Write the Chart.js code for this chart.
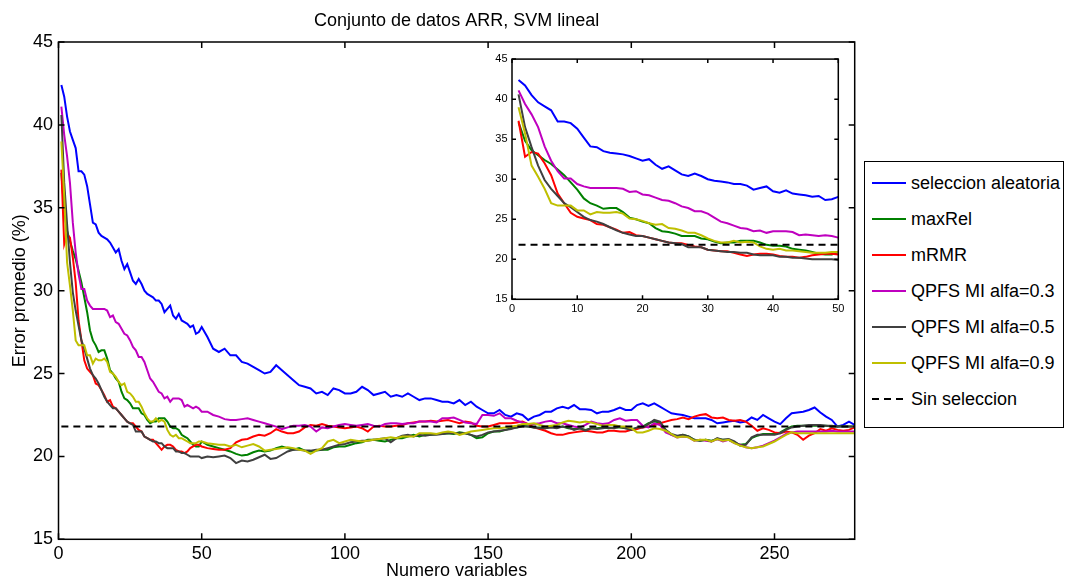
<!DOCTYPE html>
<html>
<head>
<meta charset="utf-8">
<script src="https://cdn.jsdelivr.net/npm/chart.js@4/dist/chart.umd.min.js"></script>
<style>
  body { margin: 0; background: #fff; }
  #wrap { position: relative; width: 1065px; height: 582px; font-family: "Liberation Sans", Arial, sans-serif; }
  #mainChart { position: absolute; left: 0; top: 0; }
  #insetChart { position: absolute; left: 470px; top: 48px; }
  #legend { position: absolute; left: 864px; top: 161px; width: 198px; height: 265px; border: 1px solid #000; background: #fff; }
  .item { position: absolute; left: 0; height: 22px; display: flex; align-items: center; font-size: 18px; color: #000; white-space: nowrap; }
  .sample { width: 34px; height: 2px; margin-left: 7px; margin-right: 5px; }
</style>
</head>
<body>
<div id="wrap">
  <canvas id="mainChart" width="1065" height="582"></canvas>
  <canvas id="insetChart" width="380" height="272"></canvas>
  <div id="legend"></div>
</div>
<script>
// numero de variables (1..50 una a una, luego cada 2)
const xVals = [1,2,3,4,5,6,7,8,9,10,11,12,13,14,15,16,17,18,19,20,21,22,23,24,25,26,27,28,29,30,
  31,32,33,34,35,36,37,38,39,40,41,42,43,44,45,46,47,48,49,50,
  52,54,56,58,60,62,64,66,68,70,72,74,76,78,80,82,84,86,88,90,92,94,96,98,100,102,104,106,108,110,
  112,114,116,118,120,122,124,126,128,130,132,134,136,138,140,142,144,146,148,150,152,154,156,158,160,
  162,164,166,168,170,172,174,176,178,180,182,184,186,188,190,192,194,196,198,200,202,204,206,208,210,
  212,214,216,218,220,222,224,226,228,230,232,234,236,238,240,242,244,246,248,250,252,254,256,258,260,
  262,264,266,268,270,272,274,276,278];

const aleatoria = [42.4,41.7,40.5,39.6,39.1,38.6,37.2,37.2,37.0,36.3,
  35.2,34.1,34.0,33.5,33.3,33.2,33.1,32.9,32.6,32.3,
  32.5,31.8,31.3,31.6,31.1,30.6,30.4,30.7,30.4,30.0,
  29.8,29.7,29.6,29.4,29.4,29.2,28.7,28.9,29.1,28.5,
  28.3,28.6,28.2,28.1,28.0,27.8,27.9,27.4,27.5,27.8,
  27.2,26.5,26.3,26.5,26.1,26.1,25.7,25.6,25.4,25.2,
  25.0,25.1,25.5,25.2,24.9,24.6,24.3,24.2,24.1,23.8,
  23.9,23.7,24.1,24.0,23.8,23.8,23.9,24.2,24.0,23.7,
  23.8,23.9,23.6,23.7,23.6,23.8,23.6,23.4,23.5,23.5,
  23.4,23.3,23.3,23.2,23.4,23.1,23.3,23.0,22.8,22.6,
  22.6,22.8,22.5,22.4,22.6,22.5,22.2,22.4,22.5,22.7,
  22.7,22.9,23.0,22.9,23.1,22.85,22.85,22.8,22.6,22.7,
  22.7,22.8,22.95,22.8,22.8,23.1,23.2,23.05,23.2,23.0,
  22.8,22.6,22.55,22.5,22.4,22.3,22.3,22.3,22.2,22.0,
  22.05,22.1,22.15,22.05,22.1,22.35,22.2,22.5,22.3,22.1,
  21.95,22.3,22.6,22.65,22.7,22.8,22.95,22.65,22.4,22.2,
  21.8,21.9,22.1,21.9];

const maxRel = [37.1,34.8,33.6,33.0,32.4,31.9,31.2,30.5,29.6,28.7,
  27.6,27.0,26.7,26.3,26.4,26.4,25.9,25.2,25.0,24.7,
  24.5,23.9,23.5,23.4,23.2,22.9,22.9,22.9,22.6,22.5,
  22.2,22.0,22.1,22.1,22.3,22.3,22.3,22.1,21.8,21.7,
  21.7,21.6,21.3,21.2,21.1,20.9,20.7,20.6,20.6,20.9,
  20.7,20.6,20.5,20.4,20.3,20.15,20.05,20.1,20.25,20.35,
  20.3,20.35,20.5,20.6,20.5,20.4,20.5,20.35,20.3,20.35,
  20.4,20.4,20.55,20.6,20.6,20.7,20.8,20.85,21.0,21.0,
  20.95,20.9,21.0,21.1,21.1,21.2,21.3,21.2,21.3,21.3,
  21.35,21.35,21.4,21.35,21.45,21.4,21.3,21.1,21.15,21.4,
  21.5,21.5,21.6,21.7,21.75,21.85,21.8,21.75,21.75,21.7,
  21.8,21.75,21.8,21.7,21.65,21.7,21.6,21.7,21.7,21.75,
  21.7,21.75,21.75,21.7,21.65,21.7,21.8,22.0,22.1,22.05,
  21.6,21.3,21.2,21.3,21.2,21.0,20.95,21.0,20.95,21.05,
  21.0,21.0,20.85,20.7,20.75,21.1,21.25,21.35,21.35,21.35,
  21.45,21.65,21.8,21.85,21.85,21.85,21.85,21.85,21.85,21.8,
  21.8,21.8,21.8,21.8];

const mRMR = [37.3,32.8,33.4,33.2,32.0,30.5,28.2,27.0,25.8,25.3,
  25.1,24.9,24.4,24.3,24.0,23.7,23.3,23.4,23.0,22.9,
  22.7,22.5,22.3,22.1,22.0,22.0,21.8,21.6,21.5,21.2,
  21.1,21.0,21.0,20.8,20.6,20.4,20.6,20.7,20.7,20.6,
  20.4,20.3,20.3,20.2,20.3,20.5,20.6,20.7,20.7,20.6,
  20.5,20.45,20.4,20.4,20.5,20.85,21.0,21.05,21.2,21.3,
  21.25,21.4,21.65,21.5,21.4,21.4,21.5,21.75,21.9,21.85,
  21.95,21.85,21.8,21.75,21.7,21.75,21.8,21.7,21.5,21.8,
  21.85,21.8,21.8,21.85,21.9,22.0,22.05,22.1,22.1,22.15,
  22.1,22.15,22.2,22.1,22.0,22.1,22.05,21.85,21.8,21.8,
  21.9,22.0,22.0,22.0,22.05,22.1,21.95,21.75,21.65,21.55,
  21.4,21.3,21.3,21.4,21.45,21.5,21.55,21.5,21.45,21.45,
  21.55,21.55,21.5,21.5,21.6,21.65,21.75,21.8,21.9,22.0,
  22.1,22.2,22.25,22.35,22.25,22.4,22.5,22.55,22.35,22.3,
  22.35,22.2,22.15,22.2,22.1,21.85,21.55,21.7,21.6,21.45,
  21.4,21.5,21.45,21.3,21.0,21.25,21.4,21.65,21.55,21.7,
  21.6,21.55,21.6,21.75];

const qpfs03 = [41.1,39.4,38.1,36.5,34.1,32.3,31.0,30.1,30.1,29.4,
  29.1,28.9,28.9,28.9,28.9,28.9,28.8,28.4,28.5,28.1,
  28.0,27.7,27.4,27.3,27.0,26.6,26.4,26.0,26.0,25.7,
  25.2,24.7,24.5,24.2,23.9,23.8,23.5,23.6,23.3,23.5,
  23.5,23.5,23.4,23.0,23.1,23.0,22.9,23.0,22.9,22.7,
  22.7,22.5,22.4,22.25,22.2,22.2,22.25,22.3,22.2,22.1,
  22.0,21.9,21.8,21.65,21.75,21.85,21.85,21.9,21.8,21.5,
  21.75,21.7,21.8,21.9,21.95,21.9,21.85,21.9,21.95,21.85,
  21.8,21.95,22.0,22.0,21.95,22.0,22.0,22.1,22.1,22.1,
  22.05,22.3,22.3,22.35,22.2,22.05,22.0,21.95,22.5,22.5,
  22.45,22.6,22.3,22.3,22.15,22.05,21.95,21.95,22.0,22.1,
  22.15,22.0,22.0,21.9,21.8,21.75,21.9,22.1,22.0,21.95,
  22.0,22.2,22.3,22.15,22.2,22.2,21.85,21.75,22.0,21.9,
  21.45,21.3,21.15,21.2,21.15,20.95,21.0,20.95,20.9,21.05,
  20.9,21.0,20.8,20.7,20.55,20.5,20.55,20.65,20.8,20.95,
  21.15,21.35,21.45,21.5,21.5,21.5,21.5,21.5,21.5,21.55,
  21.5,21.5,21.5,21.5];

const qpfs05 = [40.6,36.5,34.0,31.7,29.9,28.8,27.9,27.0,26.5,25.9,
  25.3,24.9,24.7,24.4,24.0,23.6,23.3,23.1,22.9,22.9,
  22.7,22.5,22.3,22.1,22.0,21.9,21.5,21.5,21.5,21.2,
  21.1,21.0,20.9,20.9,20.8,20.8,20.6,20.5,20.5,20.5,
  20.3,20.3,20.2,20.2,20.1,20.0,20.0,20.0,20.0,19.9,
  20.0,19.95,20.0,20.05,19.9,19.6,19.75,19.7,19.8,19.95,
  20.1,19.85,19.9,20.1,20.3,20.4,20.4,20.35,20.35,20.4,
  20.4,20.5,20.6,20.7,20.75,20.85,20.9,20.95,20.95,21.0,
  21.05,21.1,20.85,21.1,21.25,21.3,21.2,21.3,21.25,21.3,
  21.3,21.35,21.4,21.4,21.4,21.4,21.3,21.2,21.3,21.45,
  21.5,21.55,21.6,21.65,21.75,21.8,21.8,21.75,21.7,21.7,
  21.75,21.7,21.8,21.75,21.6,21.7,21.55,21.7,21.65,21.7,
  21.75,21.7,21.8,21.7,21.6,21.75,21.75,21.95,22.2,22.1,
  21.6,21.35,21.25,21.3,21.2,21.0,20.95,21.0,20.9,21.1,
  21.0,21.05,20.9,20.65,20.7,21.15,21.3,21.3,21.3,21.3,
  21.4,21.6,21.75,21.8,21.85,21.9,21.9,21.9,21.85,21.85,
  21.8,21.8,21.8,21.8];

const qpfs09 = [39.0,35.7,31.7,30.3,28.8,27.0,26.7,26.7,26.7,26.1,
  26.1,25.6,25.9,25.8,25.8,25.9,25.7,25.1,25.0,24.8,
  24.5,24.3,24.4,23.9,23.8,23.6,23.3,23.3,23.0,22.6,
  22.3,22.1,22.1,22.3,22.1,22.2,22.1,21.6,21.3,21.2,
  21.3,21.1,21.1,21.0,20.9,20.8,20.8,20.8,20.9,20.9,
  20.8,20.75,20.7,20.7,20.6,20.7,20.55,20.65,20.75,20.6,
  20.35,20.4,20.45,20.5,20.55,20.5,20.4,20.35,20.15,20.35,
  20.5,20.9,21.0,20.8,20.9,21.0,20.95,20.9,20.95,21.0,
  21.05,21.1,21.15,21.1,21.2,21.2,21.2,21.4,21.4,21.4,
  21.35,21.45,21.5,21.45,21.3,21.4,21.5,21.55,21.6,21.65,
  21.7,21.7,21.75,21.8,21.85,21.95,21.95,22.0,21.9,21.8,
  21.85,21.9,22.05,22.15,22.1,22.05,22.1,22.05,21.95,21.85,
  21.9,21.9,21.8,21.8,21.7,21.45,21.45,21.55,21.7,21.65,
  21.55,21.35,21.15,21.2,21.15,20.95,21.0,21.0,20.9,21.05,
  20.95,21.0,20.8,20.65,20.55,20.5,20.55,20.6,20.75,20.9,
  21.1,21.3,21.45,21.4,21.4,21.4,21.4,21.4,21.4,21.4,
  21.4,21.4,21.4,21.4];

const sinSeleccion = 21.8;

const seriesNames = ['seleccion aleatoria', 'maxRel', 'mRMR', 'QPFS MI alfa=0.3', 'QPFS MI alfa=0.5', 'QPFS MI alfa=0.9'];
const seriesColors = ['#0000ff', '#008000', '#ff0000', '#bf00bf', '#404040', '#bfbf00'];
const seriesValues = [aleatoria, maxRel, mRMR, qpfs03, qpfs05, qpfs09];

const mainXTicks = [0, 50, 100, 150, 200, 250];
const mainYTicks = [15, 20, 25, 30, 35, 40, 45];
const insetXTicks = [0, 10, 20, 30, 40, 50];
const insetYTicks = [15, 20, 25, 30, 35, 40, 45];

Chart.defaults.font.family = '"Liberation Sans", Arial, sans-serif';
Chart.defaults.color = '#000';

// caja estilo matlab con ticks hacia dentro
const boxTicks = {
    id: 'boxTicks',
    beforeDraw(chart, args, opts) {
        if (!opts.fill) return;
        const { ctx, chartArea: a } = chart;
        ctx.save();
        ctx.fillStyle = opts.fill;
        ctx.fillRect(a.left, a.top, a.width, a.height);
        ctx.restore();
    },
    afterDraw(chart, args, opts) {
        const { ctx, chartArea: a, scales } = chart;
        const len = opts.len;
        ctx.save();
        ctx.strokeStyle = '#000';
        ctx.lineWidth = opts.width;
        ctx.beginPath();
        scales.x.ticks.forEach((t) => {
            const px = scales.x.getPixelForValue(t.value);
            ctx.moveTo(px, a.bottom); ctx.lineTo(px, a.bottom - len);
            ctx.moveTo(px, a.top); ctx.lineTo(px, a.top + len);
        });
        scales.y.ticks.forEach((t) => {
            const py = scales.y.getPixelForValue(t.value);
            ctx.moveTo(a.left, py); ctx.lineTo(a.left + len, py);
            ctx.moveTo(a.right, py); ctx.lineTo(a.right - len, py);
        });
        ctx.stroke();
        ctx.strokeRect(a.left, a.top, a.width, a.height);
        ctx.restore();
    }
};

const makeDatasets = (n, lastX) => {
    const sets = seriesValues.map((vals, i) => ({
        label: seriesNames[i],
        data: xVals.slice(0, n).map((x, j) => ({ x, y: vals[j] })),
        borderColor: seriesColors[i],
        borderWidth: 2,
        pointRadius: 0,
        fill: false,
        tension: 0,
        order: 10 - i,
    }));
    sets.push({
        label: 'Sin seleccion',
        data: [{ x: 1, y: sinSeleccion }, { x: lastX, y: sinSeleccion }],
        borderColor: '#000',
        borderWidth: 2,
        borderDash: [7, 5],
        pointRadius: 0,
        fill: false,
        order: 1,
    });
    return sets;
};

const fixedTicks = (arr) => (scale) => { scale.ticks = arr.map((v) => ({ value: v })); };

new Chart(document.getElementById('mainChart'), {
    type: 'line',
    data: { datasets: makeDatasets(xVals.length, 278) },
    options: {
        responsive: false,
        animation: false,
        layout: { padding: { left: 0, right: 210.3, top: 0, bottom: 0 } },
        plugins: {
            legend: { display: false },
            tooltip: { enabled: false },
            title: {
                display: true,
                fullSize: false,
                text: 'Conjunto de datos ARR, SVM lineal',
                color: '#000',
                font: { size: 18, weight: 'normal' },
                padding: { top: 10, bottom: 10.4 },
            },
            boxTicks: { len: 6, width: 1.5 },
        },
        scales: {
            x: {
                type: 'linear',
                min: 0,
                max: 278,
                afterBuildTicks: fixedTicks(mainXTicks),
                afterFit: (s) => { s.height = 42.7; },
                grid: { display: false, drawTicks: false },
                border: { display: false },
                ticks: { padding: 4, autoSkip: false, maxRotation: 0, font: { size: 18 } },
                title: { display: true, text: 'Numero variables', font: { size: 18 }, padding: { top: 0, bottom: 0 } },
            },
            y: {
                type: 'linear',
                min: 15,
                max: 45,
                afterBuildTicks: fixedTicks(mainYTicks),
                afterFit: (s) => { s.width = 58.5; },
                grid: { display: false, drawTicks: false },
                border: { display: false },
                ticks: { padding: 5.5, autoSkip: false, font: { size: 18 } },
                title: { display: true, text: 'Error promedio (%)', font: { size: 18 }, padding: { top: 9, bottom: 0 } },
            },
        },
    },
    plugins: [boxTicks],
});

new Chart(document.getElementById('insetChart'), {
    type: 'line',
    data: { datasets: makeDatasets(50, 50) },
    options: {
        responsive: false,
        animation: false,
        layout: { padding: { left: 0, right: 11.7, top: 10.3, bottom: 0 } },
        plugins: {
            legend: { display: false },
            tooltip: { enabled: false },
            boxTicks: { len: 4, width: 1.5, fill: '#fff' },
        },
        scales: {
            x: {
                type: 'linear',
                min: 0,
                max: 50,
                afterBuildTicks: fixedTicks(insetXTicks),
                afterFit: (s) => { s.height = 20.7; },
                grid: { display: false, drawTicks: false },
                border: { display: false },
                ticks: { padding: 3, autoSkip: false, maxRotation: 0, font: { size: 11 } },
            },
            y: {
                type: 'linear',
                min: 15,
                max: 45,
                afterBuildTicks: fixedTicks(insetYTicks),
                afterFit: (s) => { s.width = 42; },
                grid: { display: false, drawTicks: false },
                border: { display: false },
                ticks: { padding: 4.5, autoSkip: false, font: { size: 11 } },
            },
        },
    },
    plugins: [boxTicks],
});

// leyenda
const legend = document.getElementById('legend');
const legendRows = seriesNames.map((name, i) => ({ name, color: seriesColors[i], dashed: false }));
legendRows.push({ name: 'Sin seleccion', color: '#000', dashed: true });
legendRows.forEach((row, i) => {
    const item = document.createElement('div');
    item.className = 'item';
    item.style.top = (21 + i * 36 - 11) + 'px';
    const sample = document.createElement('div');
    sample.className = 'sample';
    sample.style.background = row.dashed
        ? 'repeating-linear-gradient(90deg, #000 0 7px, transparent 7px 12px)'
        : row.color;
    const text = document.createElement('span');
    text.textContent = row.name;
    item.appendChild(sample);
    item.appendChild(text);
    legend.appendChild(item);
});
</script>
</body>
</html>
